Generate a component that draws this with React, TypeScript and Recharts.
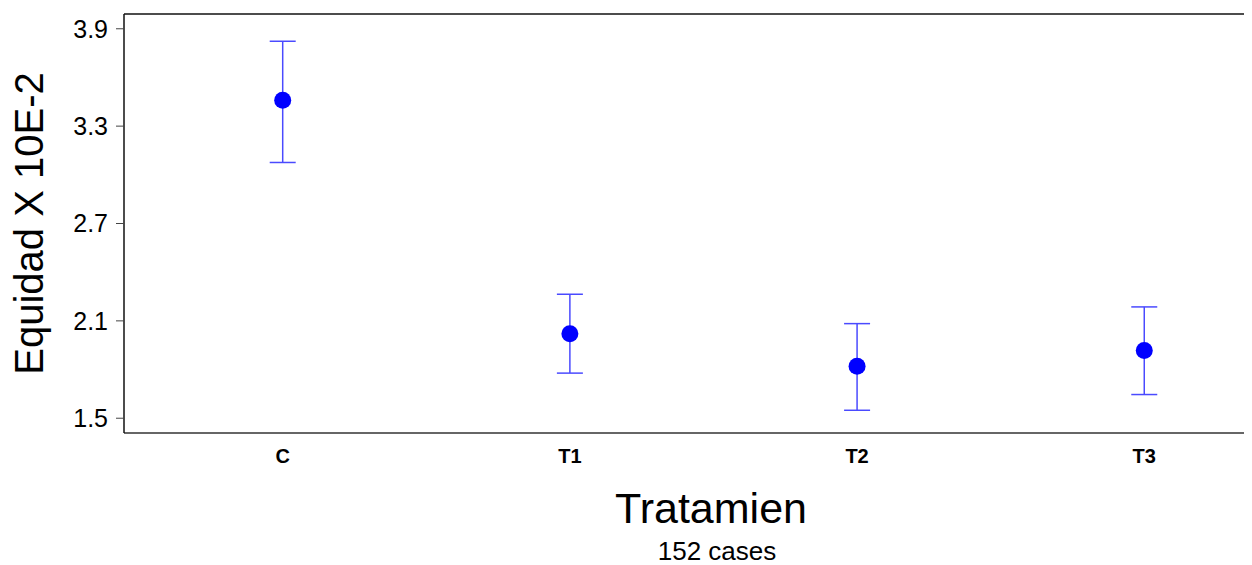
import React from "react";
import {
  ScatterChart,
  Scatter,
  XAxis,
  YAxis,
  ErrorBar,
  ReferenceLine,
} from "recharts";

const categories = ["C", "T1", "T2", "T3"];
const means = [3.459, 2.021, 1.821, 1.918];
const lows = [3.076, 1.778, 1.549, 1.646];
const highs = [3.823, 2.264, 2.083, 2.186];
const yTicks = [1.5, 2.1, 2.7, 3.3, 3.9];
const xTitle = "Tratamien";
const yTitle = "Equidad X 10E-2";
const subTitle = "152 cases";

const data = categories.map((c, i) => ({
  x: i,
  cat: c,
  mean: means[i],
  err: [means[i] - lows[i], highs[i] - means[i]],
}));

const FONT = "Arial, 'Liberation Sans', sans-serif";
const X_DOMAIN: [number, number] = [-0.5526, 3.403];
const Y_DOMAIN: [number, number] = [1.409, 3.991];

const Dot = (props: any) => (
  <circle cx={props.cx} cy={props.cy} r={8.5} fill="#0000ff" />
);

const XTitle = () => {
  const cx = 703;
  return (
    <g>
      <text
        x={cx}
        y={515}
        textAnchor="middle"
        fontSize={43}
        fontFamily={FONT}
        fill="#000"
      >
        {xTitle}
      </text>
      <text
        x={cx + 6}
        y={552}
        textAnchor="middle"
        fontSize={26}
        fontFamily={FONT}
        fill="#000"
      >
        {subTitle}
      </text>
    </g>
  );
};

const YTitle = (props: any) => {
  const vb = props.viewBox || {};
  const cy = vb.y + vb.height / 2;
  const x = 35;
  return (
    <text
      x={x}
      y={cy}
      transform={`rotate(-90, ${x}, ${cy})`}
      textAnchor="middle"
      fontSize={40}
      fontFamily={FONT}
      fill="#000"
    >
      {yTitle}
    </text>
  );
};

export default function App() {
  return (
    <div style={{ width: 1244, height: 557, overflow: "hidden" }}>
      <ScatterChart
        width={1252}
        height={557}
        margin={{ top: 6, right: 0, bottom: 92, left: 0 }}
      >
        <XAxis
          type="number"
          dataKey="x"
          domain={X_DOMAIN}
          allowDataOverflow
          ticks={[0, 1, 2, 3]}
          tickFormatter={(v: number) => categories[v] ?? ""}
          height={40}
          tickLine={false}
          tickMargin={10}
          axisLine={{ stroke: "#333", strokeWidth: 1.5 }}
          tick={{ fontSize: 20, fontWeight: "bold", fill: "#000", fontFamily: FONT }}
          label={{ content: <XTitle /> } as any}
        />
        <YAxis
          type="number"
          dataKey="mean"
          domain={Y_DOMAIN}
          allowDataOverflow
          ticks={yTicks}
          tickFormatter={(v: number) => v.toFixed(1)}
          width={116}
          tickSize={8}
          tickMargin={8}
          tickLine={{ stroke: "#444" }}
          axisLine={{ stroke: "#111", strokeWidth: 1.5 }}
          tick={{ fontSize: 25, fill: "#000", fontFamily: FONT }}
          label={{ content: <YTitle /> } as any}
        />
        <ReferenceLine y={Y_DOMAIN[1]} stroke="#111" strokeWidth={1.5} />
        <Scatter
          data={data}
          dataKey="mean"
          shape={<Dot />}
          isAnimationActive={false}
        >
          <ErrorBar
            dataKey="err"
            direction="y"
            width={13}
            stroke="#4a4aff"
            strokeWidth={1.5}
            isAnimationActive={false}
          />
        </Scatter>
      </ScatterChart>
    </div>
  );
}
